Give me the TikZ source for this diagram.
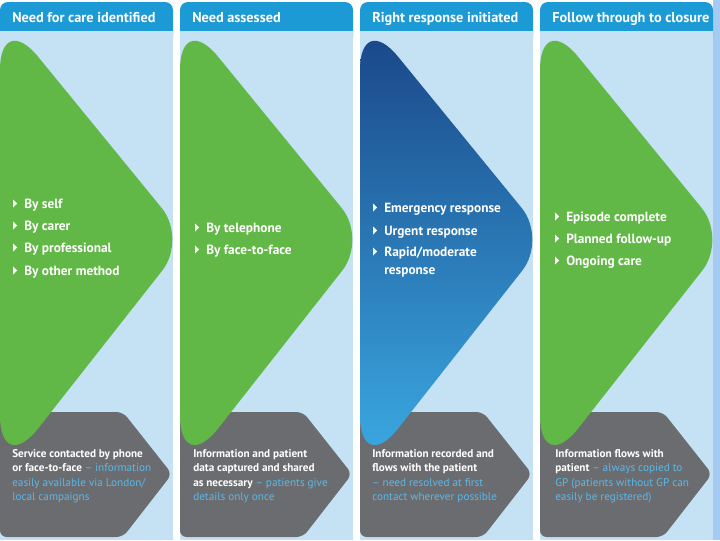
\documentclass[tikz,border=0pt]{standalone}
\usepackage{fontspec}
\setmainfont{PT Sans}
\definecolor{hdr}{HTML}{1B9AD6}
\definecolor{panel}{HTML}{C5E2F4}
\definecolor{grn}{HTML}{62B846}
\definecolor{gry}{HTML}{6B6C6F}
\definecolor{lbl}{HTML}{5CB8E8}
\definecolor{strip}{HTML}{A6CBF3}
\definecolor{navy}{HTML}{1A4789}
\definecolor{midb}{HTML}{0866B4}
\definecolor{lowb}{HTML}{3AA8E0}
\newcommand\arrowpath{(0,70) .. controls (0,37) and (17.1,31.2) .. (37.9,56.5) -- (161.7,208) .. controls (175.6,225) and (175.9,253.2) .. (162.3,270.5) -- (38.3,428.2) .. controls (17.2,455) and (0,449.1) .. (0,415) -- cycle}
\newcommand\bitem[4]{%
  \fill[white] (#1,#2-0.5) -- (#1+4.2,#2-4.5) -- (#1,#2-8.5) -- cycle;
  \node[btxt] (#3) at (#1+11,#2) {#4};}
\begin{document}
\begin{tikzpicture}[x=0.75pt,y=-0.75pt,
  hdrtxt/.style={anchor=base west,inner sep=0pt,text=white,font=\bfseries\fontsize{10.7}{12}\selectfont},
  btxt/.style={anchor=base west,inner sep=0pt,text=white,font=\bfseries\fontsize{10}{12}\selectfont},
  gtxt/.style={anchor=base west,inner sep=0pt,text=white,font=\fontsize{8.4}{10}\selectfont}]
\useasboundingbox (0,0) rectangle (720,540);
\fill[white] (0,0) rectangle (720,540);
\fill[strip] (713,0) rectangle (720,540);
\foreach \x in {0,180,360,540}{
  \fill[hdr,rounded corners=6] (\x,2) rectangle (\x+173,45);
  \fill[panel] (\x,31) rectangle (\x+173,540);
  \fill[gry,rounded corners=5] (\x,412) -- (\x+123,412) -- (\x+172,474) -- (\x+123,537) -- (\x,537) -- cycle;
}
\foreach \x in {0,180,540}{
  \begin{scope}[shift={(\x,0)}]
    \fill[grn] \arrowpath;
  \end{scope}
}
\begin{scope}[shift={(360,0)}]
  \shade[top color=navy,middle color=midb,bottom color=lowb] \arrowpath;
\end{scope}
% headers
\node[hdrtxt] (h1) at (12,22) {Need for care identified};
\node[hdrtxt] (h2) at (192,22) {Need assessed};
\node[hdrtxt] (h3) at (372,22) {Right response initiated};
\node[hdrtxt] (h4) at (552,22) {Follow through to closure};
% bullets
\bitem{13}{208}{a1}{By self}
\bitem{13}{230}{a2}{By carer}
\bitem{13}{252}{a3}{By professional}
\bitem{13}{275}{a4}{By other method}
\bitem{195}{232}{b1}{By telephone}
\bitem{195}{254}{b2}{By face-to-face}
\bitem{373}{212}{c1}{Emergency response}
\bitem{373}{235}{c2}{Urgent response}
\bitem{373}{256}{c3}{Rapid/moderate}
\node[btxt] (c4) at (384,274) {response};
\bitem{555}{221}{d1}{Episode complete}
\bitem{555}{243}{d2}{Planned follow-up}
\bitem{555}{265}{d3}{Ongoing care}
% gray texts
\node[gtxt] (g11) at (12,457) {\bfseries Service contacted by phone};
\node[gtxt] (g12) at (12,471.5) {\bfseries or face-to-face \mdseries\textcolor{lbl}{– information}};
\node[gtxt,text=lbl] (g13) at (12,486) {easily available via London/};
\node[gtxt,text=lbl] (g14) at (12,500.5) {local campaigns};
\node[gtxt] (g21) at (193,457) {\bfseries Information and patient};
\node[gtxt] (g22) at (193,471.5) {\bfseries data captured and shared};
\node[gtxt] (g23) at (193,486) {\bfseries as necessary \mdseries\textcolor{lbl}{– patients give}};
\node[gtxt,text=lbl] (g24) at (193,500.5) {details only once};
\node[gtxt] (g31) at (372,457) {\bfseries Information recorded and};
\node[gtxt] (g32) at (372,471.5) {\bfseries flows with the patient};
\node[gtxt,text=lbl] (g33) at (372,486) {– need resolved at first};
\node[gtxt,text=lbl] (g34) at (372,500.5) {contact wherever possible};
\node[gtxt] (g41) at (555,457) {\bfseries Information flows with};
\node[gtxt] (g42) at (555,471.5) {\bfseries patient \mdseries\textcolor{lbl}{– always copied to}};
\node[gtxt,text=lbl] (g43) at (555,486) {GP (patients without GP can};
\node[gtxt,text=lbl] (g44) at (555,500.5) {easily be registered)};
\end{tikzpicture}
\end{document}
